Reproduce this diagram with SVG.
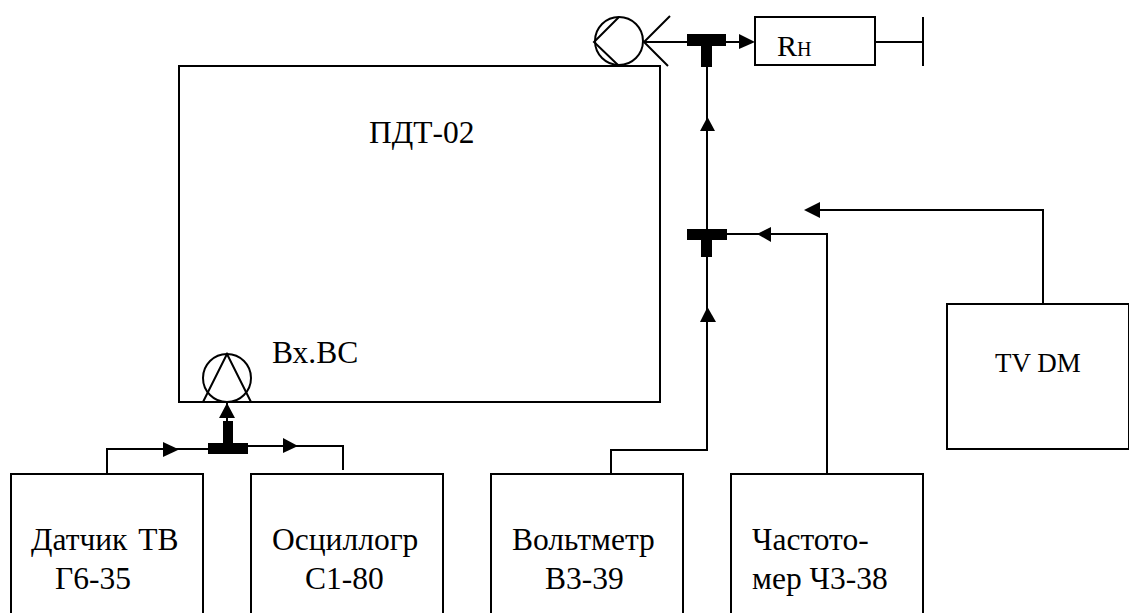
<svg xmlns="http://www.w3.org/2000/svg" width="1129" height="613" viewBox="0 0 1129 613">
<style>
.b{fill:#fff;stroke:#000;stroke-width:2}
.l{fill:none;stroke:#000;stroke-width:2}
.k{fill:#000;stroke:none}
text{font-family:"Liberation Serif","Times New Roman",serif;font-size:31.5px;fill:#000}
</style>
<rect width="1129" height="613" fill="#fff"/>
<g id="pdt"><rect class="b" x="179" y="66" width="481" height="336"/><text x="369" y="143">ПДТ-02</text></g>
<g id="vxvc"><circle class="b" cx="227" cy="378" r="24"/><path class="l" d="M203 402L227 354L251 402"/><text x="272" y="363">Вх.ВС</text></g>
<g id="out"><circle class="b" cx="619" cy="41" r="24"/><path class="l" d="M619 17L594 42L619 66M670 16L644 42L668 66"/></g>
<g id="rn"><rect class="b" x="755" y="17" width="120" height="48"/><text x="777" y="56" style="font-size:30px">R<tspan style="font-size:20px">Н</tspan></text><path class="l" d="M875 42H923M923 17V66"/></g>
<g id="tvdm"><rect class="b" x="947" y="304" width="182" height="145"/><text x="995" y="372" style="font-size:27px">TV DM</text></g>
<g id="d1"><rect class="b" x="11" y="474" width="192" height="145"/><text x="31" y="550" word-spacing="3">Датчик ТВ</text><text x="55" y="589">Г6-35</text></g>
<g id="d2"><rect class="b" x="251" y="474" width="192" height="145"/><text x="272" y="550">Осциллогр</text><text x="305" y="589">С1-80</text></g>
<g id="d3"><rect class="b" x="491" y="474" width="192" height="145"/><text x="512" y="550">Вольтметр</text><text x="545" y="589">В3-39</text></g>
<g id="d4"><rect class="b" x="731" y="474" width="192" height="145"/><text x="752" y="550">Частото-</text><text x="752" y="589">мер Ч3-38</text></g>
<g id="connectors">
<path class="l" d="M107 474V449H210"/>
<path class="l" d="M247 446H343V470"/>
<path class="l" d="M227 402V425"/>
<path class="l" d="M611 474V450H707V60"/>
<path class="l" d="M723 234H827V474"/>
<path class="l" d="M1043 304V210H815"/>
<path class="l" d="M644 42H750"/>
<path class="k" d="M208 443H248V454H208ZM223 421H233V443H223Z"/>
<path class="k" d="M687 229H727V240H687ZM701 240H712V257H701Z"/>
<path class="k" d="M687 34H726V46H687ZM701 46H712V67H701Z"/>
<path class="k" d="M227 403L235 418H219Z"/>
<path class="k" d="M179 449.500L163 442V457Z"/>
<path class="k" d="M298 446L283 438V453Z"/>
<path class="k" d="M707.500 117L700 131H715Z"/>
<path class="k" d="M707.500 307L700 322H716Z"/>
<path class="k" d="M757 234L771 227V242Z"/>
<path class="k" d="M804 210L820 202V218Z"/>
<path class="k" d="M755 42L739 34V49Z"/>
</g>
</svg>
